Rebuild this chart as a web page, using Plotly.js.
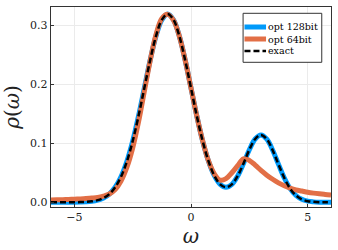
<!DOCTYPE html>
<html>
<head>
<meta charset="utf-8">
<script src="https://cdn.plot.ly/plotly-3.0.1.min.js"></script>
<style>html,body{margin:0;padding:0;background:#fff;}#chart{width:338px;height:250px;}</style>
</head>
<body>
<div id="chart"></div>
<script>
const omega = [-6,-5.75,-5.5,-5.25,-5,-4.75,-4.5,-4.25,-4,-3.75,-3.5,-3.25,-3,-2.75,-2.5,-2.25,-2,-1.75,-1.5,-1.25,-1,-0.75,-0.5,-0.25,0,0.25,0.5,0.75,1,1.25,1.5,1.75,2,2.25,2.5,2.75,3,3.25,3.5,3.75,4,4.25,4.5,4.75,5,5.25,5.5,5.75,6];
const exact = [0,0,0,0,0.0001,0.0003,0.0007,0.0016,0.0036,0.0073,0.0140,0.0254,0.0432,0.0690,0.1036,0.1461,0.1936,0.2409,0.2817,0.3093,0.3192,0.3093,0.2817,0.2409,0.1936,0.1461,0.1038,0.0697,0.0451,0.0304,0.0255,0.0304,0.0446,0.0658,0.0890,0.1072,0.1141,0.1069,0.0883,0.0642,0.0411,0.0231,0.0115,0.0050,0.0019,0.0007,0.0002,0.0001,0];
const opt128 = [0,0,0,0,0.0001,0.0003,0.0007,0.0016,0.0036,0.0073,0.0140,0.0254,0.0432,0.0690,0.1036,0.1461,0.1936,0.2409,0.2817,0.3093,0.3192,0.3093,0.2817,0.2409,0.1936,0.1461,0.1038,0.0697,0.0451,0.0304,0.0255,0.0304,0.0446,0.0658,0.0890,0.1072,0.1141,0.1069,0.0883,0.0642,0.0411,0.0231,0.0115,0.0050,0.0019,0.0007,0.0002,0.0001,0];
const opt64 = [0.0040,0.0042,0.0045,0.0048,0.0052,0.0057,0.0063,0.0071,0.0082,0.0105,0.0140,0.0215,0.0360,0.0590,0.0920,0.1360,0.1880,0.2400,0.2840,0.3115,0.3185,0.3085,0.2815,0.2409,0.1936,0.1460,0.1040,0.0700,0.0480,0.0375,0.0400,0.0500,0.0620,0.0735,0.0710,0.0630,0.0540,0.0460,0.0390,0.0330,0.0280,0.0240,0.0210,0.0190,0.0170,0.0155,0.0143,0.0133,0.0125];
const names = ["opt 128bit","opt 64bit","exact"];
const xTicks = [-5,0,5];
const yTicks = [0,0.1,0.2,0.3];

const serif = "DejaVu Serif";
const styles = [
  {color: "#009AFA", width: 5},
  {color: "#E26F46", width: 5},
  {color: "#000000", width: 2.5, dash: "6px,3px"}
];
const series = [opt128, opt64, exact];
const traces = series.map((ys, i) => ({
  x: omega, y: ys, name: names[i], mode: "lines",
  line: Object.assign({shape: "spline"}, styles[i])
}));
const axisCommon = {
  showline: true, mirror: true, linecolor: "#333", linewidth: 1.2,
  showgrid: true, gridcolor: "#ebebeb", gridwidth: 1,
  zeroline: false, ticks: "inside", ticklen: 3, tickcolor: "#333",
  tickfont: {family: serif, size: 11, color: "#222"}
};

// hand-built legend box (Plotly's legend rows are taller than the reference)
const leg = {x0: 0.686, x1: 0.967, y0: 0.7235, y1: 0.9685, lx0: 0.691, lx1: 0.768, tx: 0.772, rows: [0.900, 0.840, 0.780]};
const shapes = [{type: "rect", xref: "paper", yref: "paper", x0: leg.x0, x1: leg.x1, y0: leg.y0, y1: leg.y1,
  fillcolor: "#fff", line: {color: "#333", width: 1}, layer: "above"}];
const annotations = [];
names.forEach((n, i) => {
  shapes.push({type: "line", xref: "paper", yref: "paper", x0: leg.lx0, x1: leg.lx1, y0: leg.rows[i], y1: leg.rows[i],
    line: {color: styles[i].color, width: styles[i].width, dash: styles[i].dash || "solid"}, layer: "above"});
  annotations.push({xref: "paper", yref: "paper", x: leg.tx, y: leg.rows[i], xanchor: "left", yanchor: "middle",
    text: n, showarrow: false, borderpad: 0, font: {family: serif, size: 9.5, color: "#000"}});
});

const layout = {
  width: 338, height: 250,
  margin: {l: 51, r: 7, t: 7, b: 43},
  paper_bgcolor: "#fff", plot_bgcolor: "#fff",
  font: {family: serif},
  showlegend: false,
  shapes: shapes, annotations: annotations,
  xaxis: Object.assign({}, axisCommon, {
    range: [-6, 6], tickvals: xTicks, ticktext: xTicks.map(v => v < 0 ? "\u2212" + Math.abs(v) : String(v)),
    title: {text: "<i>ω</i>", font: {family: serif, size: 20, color: "#222"}, standoff: 4}
  }),
  yaxis: Object.assign({}, axisCommon, {
    range: [-0.008, 0.331], tickvals: yTicks, ticktext: yTicks.map(v => v.toFixed(1)),
    title: {text: "<i>ρ</i>(<i>ω</i>)", font: {family: serif, size: 20, color: "#222"}, standoff: 6}
  })
};
Plotly.newPlot("chart", traces, layout, {staticPlot: true, displayModeBar: false});
</script>
</body>
</html>
